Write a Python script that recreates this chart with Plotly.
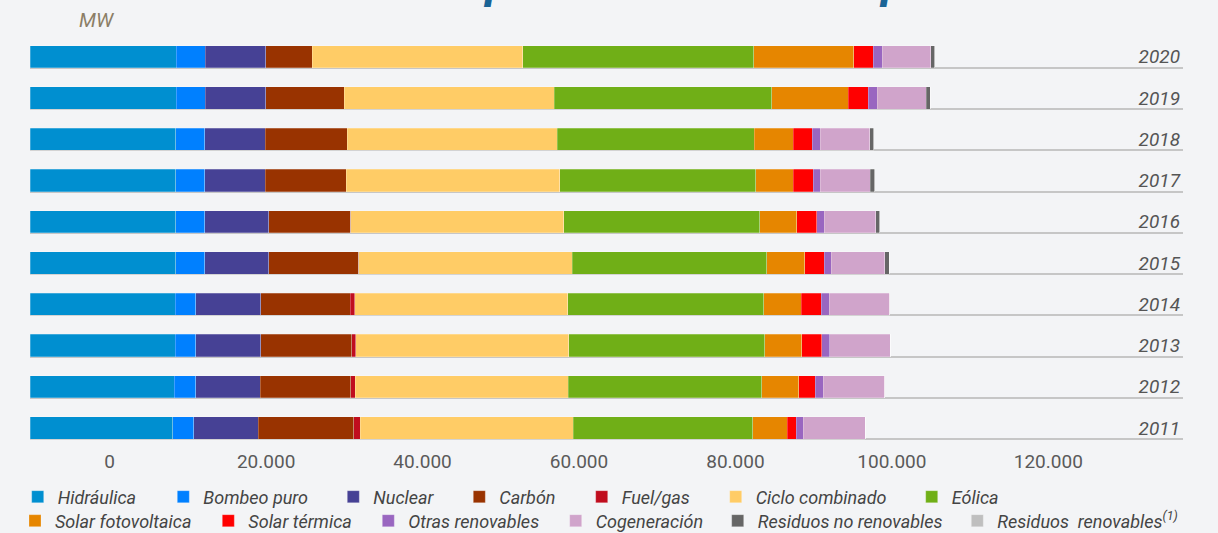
import plotly.graph_objects as go

# ---------------- data (MW) ----------------
years = [2011, 2012, 2013, 2014, 2015, 2016, 2017, 2018, 2019, 2020]

hidraulica      = [16680, 16880, 16990, 16990, 17030, 17030, 17030, 17030, 17080, 17080]
bombeo_puro     = [2460, 2490, 2420, 2420, 3390, 3390, 3390, 3390, 3390, 3390]
nuclear         = [7570, 7570, 7560, 7560, 7490, 7490, 7100, 7100, 7090, 7090]
carbon          = [11150, 10560, 10640, 10490, 10530, 9590, 9470, 9560, 9170, 5460]
fuel_gas        = [780, 520, 490, 500, 0, 0, 0, 0, 0, 0]
ciclo_combinado = [24880, 24950, 24940, 24960, 24960, 24910, 24990, 24560, 24560, 24600]
eolica          = [21010, 22610, 22880, 22880, 22760, 22920, 22880, 23080, 25470, 27020]
solar_fv        = [4060, 4330, 4370, 4410, 4440, 4370, 4410, 4530, 8970, 11700]
solar_termica   = [1020, 1950, 2340, 2340, 2300, 2290, 2340, 2260, 2320, 2270]
otras_renov     = [850, 940, 890, 940, 820, 900, 820, 940, 1050, 1090]
cogeneracion    = [7220, 7170, 7100, 7050, 6230, 6000, 5850, 5770, 5700, 5650]
residuos_no_ren = [0, 0, 0, 0, 520, 520, 500, 470, 470, 470]
residuos_ren    = [0, 0, 0, 0, 0, 0, 0, 0, 0, 0]

names = ["Hidráulica", "Bombeo puro", "Nuclear", "Carbón", "Fuel/gas",
         "Ciclo combinado", "Eólica", "Solar fotovoltaica", "Solar térmica",
         "Otras renovables", "Cogeneración", "Residuos no renovables",
         "Residuos\u00a0 renovables<sup>(1)</sup>"]
values = [hidraulica, bombeo_puro, nuclear, carbon, fuel_gas, ciclo_combinado,
          eolica, solar_fv, solar_termica, otras_renov, cogeneracion,
          residuos_no_ren, residuos_ren]

axis_ticks = [0, 20000, 40000, 60000, 80000, 100000, 120000]

# ---------------- styles ----------------
colors = ["#008FD0", "#0080FF", "#464195", "#993300", "#C00D1E", "#FFCC66",
          "#70AF17", "#E68600", "#FF0000", "#9966C0", "#D0A4CB", "#666666",
          "#BFBFBF"]

# legend entries: (text start x px, centre y px) in the 1218x533 page
legend_pos = [(57.7, 497.0), (203.3, 497.0), (373.3, 497.0), (499.3, 497.0),
              (621.7, 497.0), (755.7, 497.0), (951.7, 497.0),
              (55.0, 521.0), (248.3, 521.0), (408.3, 521.0), (595.7, 521.0),
              (757.7, 521.0), (997.3, 521.0)]

W, H = 1218, 533
FONT = "Roboto"
BG = "#F3F4F6"

fig = go.Figure()
for i, (name, vals) in enumerate(zip(names, values)):
    fig.add_trace(go.Bar(
        y=years, x=vals, name=name, orientation="h", width=0.534,
        marker=dict(color=colors[i], line=dict(color="rgba(255,255,255,0.3)", width=0.8)),
        legend=f"legend{i+2}",
    ))

# invisible helper so the labelled value axis (x2) is drawn
fig.add_trace(go.Scatter(x=axis_ticks, y=[years[0]] * len(axis_ticks), xaxis="x2",
                         mode="none", showlegend=False, hoverinfo="skip"))

layout = dict(
    width=W, height=H,
    barmode="stack",
    separators=",.",
    showlegend=True,
    paper_bgcolor=BG, plot_bgcolor=BG,
    margin=dict(l=30, r=35, t=30, b=85, autoexpand=False),
    font=dict(family=FONT, color="#555555"),
    xaxis=dict(range=[0, 134854], visible=False, fixedrange=True),
    xaxis2=dict(overlaying="x", anchor="y", side="bottom",
                range=[-10190, 137220], tickvals=axis_ticks, tickformat=",d",
                showgrid=False, zeroline=False, showline=False, ticks="",
                tickfont=dict(family=FONT, size=19, color="#5A5A5A")),
    yaxis=dict(range=[2010.515, 2020.648], side="right", ticklabelposition="inside",
               tickvals=years, showgrid=False, zeroline=False, showline=False, ticks="",
               tickfont=dict(family=FONT, size=19, color="#555555", style="italic"),
               minor=dict(tickvals=[y - 0.267 for y in years], showgrid=True,
                          gridcolor="#C6C6C6", gridwidth=1.5, ticks="")),
    annotations=[
        dict(text="MW", xref="paper", yref="paper", x=(77 - 30) / 1153, y=1 + 10 / 418,
             xanchor="left", yanchor="middle", showarrow=False,
             font=dict(family=FONT, size=20, color="#8B7E66", style="italic")),
        dict(text="<b>Evolución de la potencia instalada peninsular</b>",
             xref="paper", yref="paper", x=(631 - 30) / 1153, y=1.046,
             xanchor="center", yanchor="bottom", showarrow=False,
             font=dict(family=FONT, size=48, color="#1A6496", style="italic")),
    ],
)

for i, (px, py) in enumerate(legend_pos):
    key = f"legend{i+2}"
    layout[key] = dict(
        x=(px - 40) / W, y=1 - py / H, xref="container", yref="container",
        xanchor="left", yanchor="middle", orientation="h",
        bgcolor="rgba(0,0,0,0)", borderwidth=0, itemwidth=30,
        font=dict(family=FONT, size=18, color="#444444", style="italic"),
    )

fig.update_layout(**layout)
fig.write_html("out.html", config={"displayModeBar": False},
               post_script="document.body.style.margin='0';")
